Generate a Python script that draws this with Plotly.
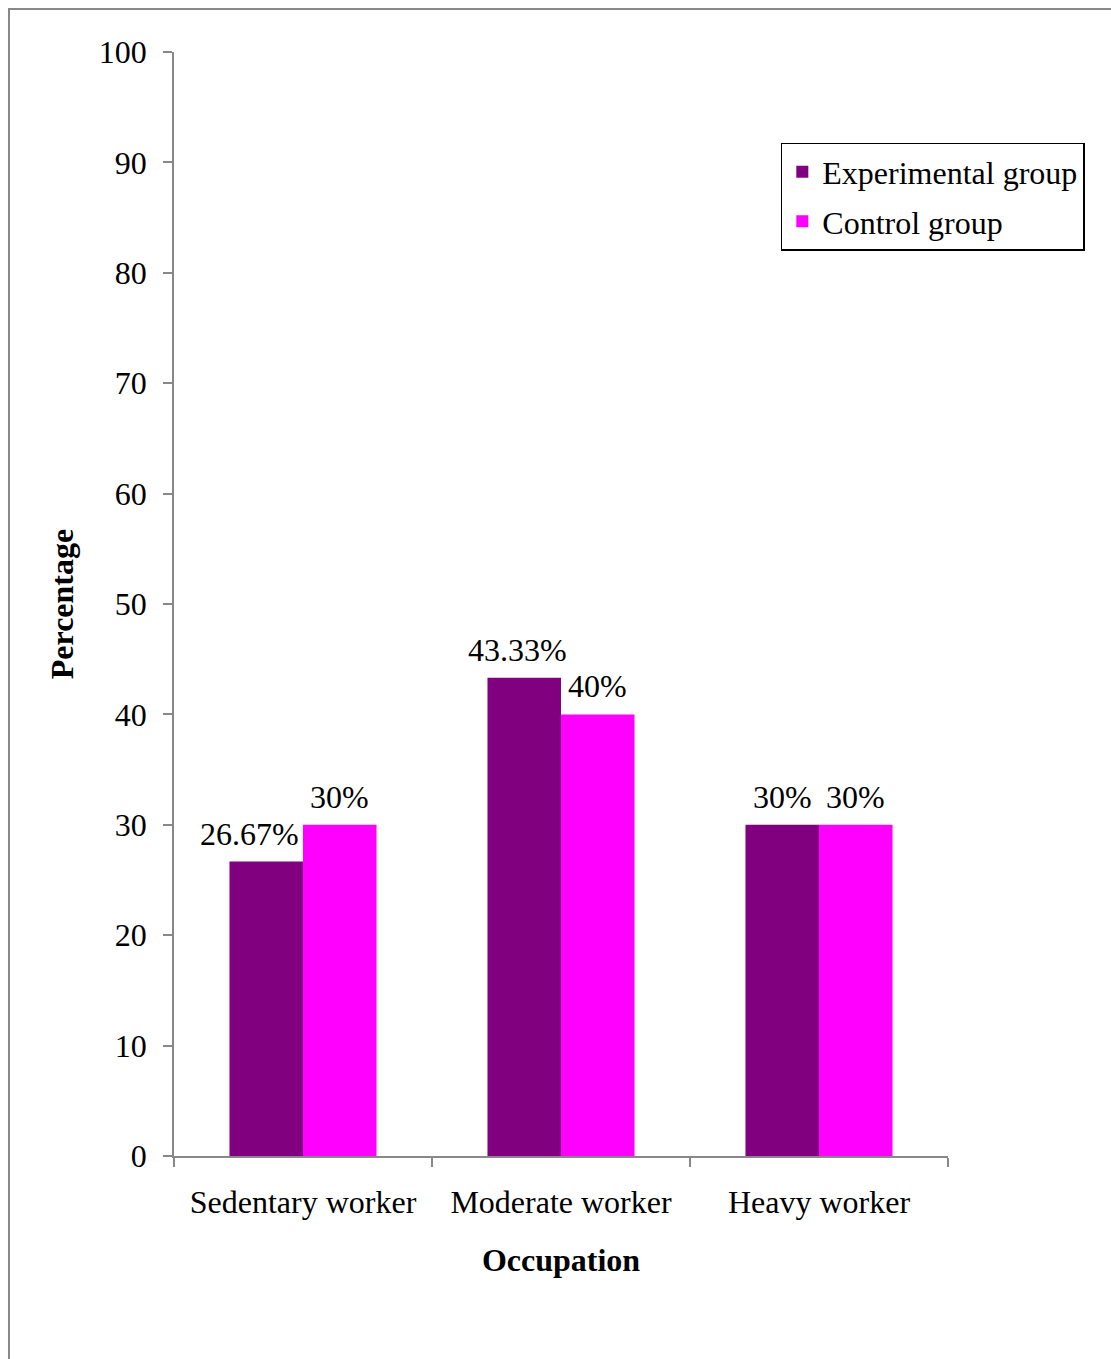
import plotly.graph_objects as go

categories = ["Sedentary worker", "Moderate worker", "Heavy worker"]
experimental = [26.67, 43.33, 30]
control = [30, 40, 30]
exp_labels = ["26.67%", "43.33%", "30%"]
ctrl_labels = ["30%", "40%", "30%"]
y_ticks = [0, 10, 20, 30, 40, 50, 60, 70, 80, 90, 100]
# extra horizontal nudges of labels (px) to avoid overlap, as in the original
exp_nudge = [-17, -7, 0]
ctrl_nudge = [0, 0, 0]

FONT = "Liberation Serif"
FS = 32
HALF_BAR = 36.75

fig = go.Figure()
fig.add_trace(go.Bar(name="Experimental group", x=categories, y=experimental,
                     marker=dict(color="#800080", line=dict(width=0)),
                     legendgroup="a"))
fig.add_trace(go.Bar(name="Control group", x=categories, y=control,
                     marker=dict(color="#FF00FF", line=dict(width=0)),
                     legendgroup="b"))

annotations = []
for cat, val, lab, nd in zip(categories, experimental, exp_labels, exp_nudge):
    annotations.append(dict(x=cat, y=val, xref="x", yref="y", text=lab, showarrow=False,
                            xanchor="center", yanchor="bottom", xshift=-HALF_BAR + nd, yshift=8,
                            font=dict(family=FONT, size=FS, color="black")))
for cat, val, lab, nd in zip(categories, control, ctrl_labels, ctrl_nudge):
    annotations.append(dict(x=cat, y=val, xref="x", yref="y", text=lab, showarrow=False,
                            xanchor="center", yanchor="bottom", xshift=HALF_BAR + nd, yshift=8,
                            font=dict(family=FONT, size=FS, color="black")))

fig.update_layout(
    width=1111, height=1359,
    margin=dict(l=174, r=163, t=52, b=203),
    paper_bgcolor="white", plot_bgcolor="white",
    barmode="group", bargap=0.43, bargroupgap=0,
    font=dict(family=FONT, size=FS, color="black"),
    showlegend=True,
    legend=dict(x=0.784, y=0.9176, xanchor="left", yanchor="top",
                bordercolor="black", borderwidth=1.5, bgcolor="white",
                font=dict(family=FONT, size=FS), tracegroupgap=5,
                traceorder="grouped", itemwidth=30),
    xaxis=dict(showline=True, linecolor="#888888", linewidth=1.5,
               ticks="outside", tickson="boundaries", ticklen=9,
               tickcolor="#888888", tickwidth=1.5, ticklabelstandoff=17,
               tickfont=dict(family=FONT, size=FS),
               title=dict(text="<b>Occupation</b>", font=dict(family=FONT, size=FS), standoff=29)),
    yaxis=dict(range=[0, 100], tickvals=y_ticks, showgrid=False, zeroline=False,
               showline=True, linecolor="#888888", linewidth=1.5,
               ticks="outside", ticklen=9, tickcolor="#888888", tickwidth=1.5,
               ticklabelstandoff=10,
               tickfont=dict(family=FONT, size=FS),
               title=dict(text="<b>Percentage</b>", font=dict(family=FONT, size=FS), standoff=16)),
    annotations=annotations,
    shapes=[dict(type="rect", xref="paper", yref="paper",
                 x0=-0.2132, x1=1.4, y0=-0.3, y1=1.039,
                 line=dict(color="#888888", width=2), fillcolor="rgba(0,0,0,0)", layer="below")],
)

fig.write_html("out.html")
